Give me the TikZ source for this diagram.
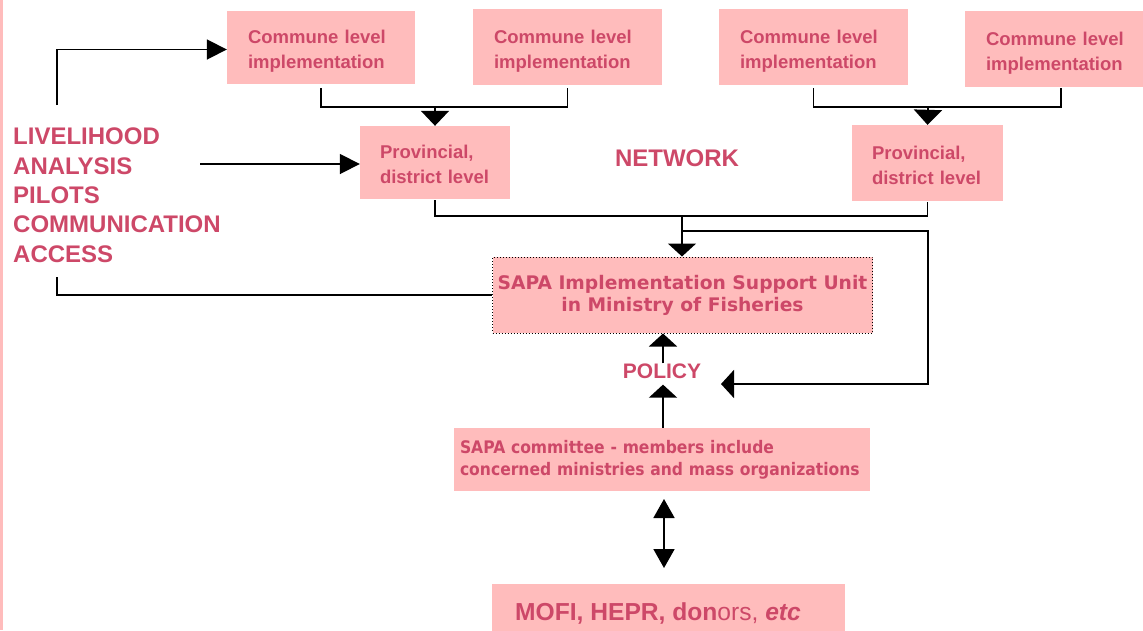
\documentclass[tikz,border=0pt]{standalone}
\usepackage{fontspec}
\setmainfont{Liberation Sans}
\newfontfamily\verd{DejaVu Sans}
\newfontfamily\verdc[FakeStretch=0.9]{DejaVu Sans}
\usetikzlibrary{arrows.meta}
\definecolor{boxpink}{RGB}{255,188,188}
\definecolor{txtred}{RGB}{205,72,104}
\begin{document}
\begin{tikzpicture}[x=1pt,y=-1pt,
  pbox/.style={fill=boxpink, draw=none, inner ysep=0pt, inner xsep=21pt, text=txtred, align=left,
    text height=12pt, text depth=20pt, font=\bfseries\fontsize{18.5}{25}\selectfont},
  ptext/.style={text=txtred, inner sep=0pt},
  conn/.style={line width=1.8pt, black},
  tipbig/.style={-{Triangle[length=20pt,width=20pt]}},
  tipwide/.style={-{Triangle[length=15pt,width=28pt]}},
  tipflat/.style={-{Triangle[length=13pt,width=28pt]}},
  tipdouble/.style={{Triangle[length=19pt,width=21pt]}-{Triangle[length=19pt,width=21pt]}}
]
\useasboundingbox (0,0) rectangle (1143,630);
\fill[boxpink] (0,0) rectangle (3,630);

% commune boxes
\node[pbox, text width=146pt, minimum height=73pt] (c1) at (321,47.5) {Commune level\\implementation};
\node[pbox, text width=147pt, minimum height=76pt] (c2) at (567.5,47) {Commune level\\implementation};
\node[pbox, text width=147pt, minimum height=76pt] (c3) at (813.5,47) {Commune level\\implementation};
\node[pbox, text width=150pt, minimum height=76pt] (c4) at (1061,49) {Commune level\\implementation};

% provincial boxes
\node[pbox, inner xsep=20pt, text width=110pt, minimum height=73pt] (p1) at (435,162.5) {Provincial,\\district level};
\node[pbox, inner xsep=20pt, text width=111pt, minimum height=76pt] (p2) at (927.5,163) {Provincial,\\district level};

% left text
\node[ptext, anchor=north west, align=left, font=\bfseries\fontsize{24}{29.3}\selectfont] (left) at (13,128)
  {LIVELIHOOD\\ANALYSIS\\PILOTS\\COMMUNICATION\\ACCESS};

\node[ptext, font=\bfseries\fontsize{24}{28}\selectfont] (net) at (677,158) {NETWORK};

% SAPA unit
\node[fill=boxpink, draw=black, dotted, line width=1pt, minimum width=380pt, minimum height=76pt,
  text=txtred, align=center, font=\verd\bfseries\fontsize{18.7}{22}\selectfont, inner sep=0pt] (unit) at (682.5,295)
  {SAPA Implementation Support Unit\\in Ministry of Fisheries};

\node[ptext, font=\bfseries\fontsize{21}{25}\selectfont] (pol) at (662,371) {POLICY};

% committee
\node[pbox, inner xsep=0pt, text width=404pt, minimum width=416pt, minimum height=63pt, text height=9pt, text depth=21pt,
  font=\verdc\bfseries\fontsize{17.3}{22}\selectfont] (comm) at (662,459.5)
  {SAPA committee - members include\\concerned ministries and mass organizations};

% bottom box
\node[fill=boxpink, inner sep=0pt, minimum width=353pt, minimum height=60pt] (mofi) at (668.5,614) {};
\node[ptext, anchor=base west, font=\fontsize{24.6}{28}\selectfont] (mofitext) at (515,620)
  {\bfseries MOFI, HEPR, don\mdseries ors, \bfseries\itshape etc};

% coordinates
\coordinate (lt1) at (57,105);
\coordinate (lt2) at (200,164);
\coordinate (lt3) at (57,277);
\coordinate (j1) at (435,107);
\coordinate (j2) at (928,107);
\coordinate (j3) at (682,216);
\coordinate (j4) at (682,231);
\coordinate (r2) at (928,384);
\coordinate (polin) at (721,384);
\coordinate (d1) at (664,499);
\coordinate (d2) at (664,568);

% connectors
\draw[conn, tipbig] (lt1) |- ([yshift=-2pt]c1.west);
\draw[conn, tipbig] (lt2) -- (lt2-|p1.west);
\draw[conn] ([yshift=-4pt]c1.south) |- (j1) -| ([yshift=-3pt]c2.south);
\draw[conn, tipwide] (j1) -- (p1.north);
\draw[conn] ([yshift=-3pt]c3.south) |- (j2) -| ([yshift=-1pt]c4.south);
\draw[conn, tipwide] (j2) -- (p2.north);
\draw[conn] ([yshift=-1pt]p1.south) |- (j3) -| ([yshift=-1pt]p2.south);
\draw[conn, tipflat] (j3) -- (j3|-unit.north);
\draw[conn, tipflat] (j4) -| (r2) -- (polin);
\draw[conn, tipflat] ([xshift=1pt]pol.north) -- ([xshift=1pt]pol.north|-unit.south);
\draw[conn, tipflat] ([xshift=1pt]pol.south|-comm.north) -- ([xshift=1pt,yshift=-6pt]pol.south);
\draw[conn, tipdouble] (d1) -- (d2);
\draw[conn] (lt3) |- (unit.west);
\end{tikzpicture}
\end{document}
